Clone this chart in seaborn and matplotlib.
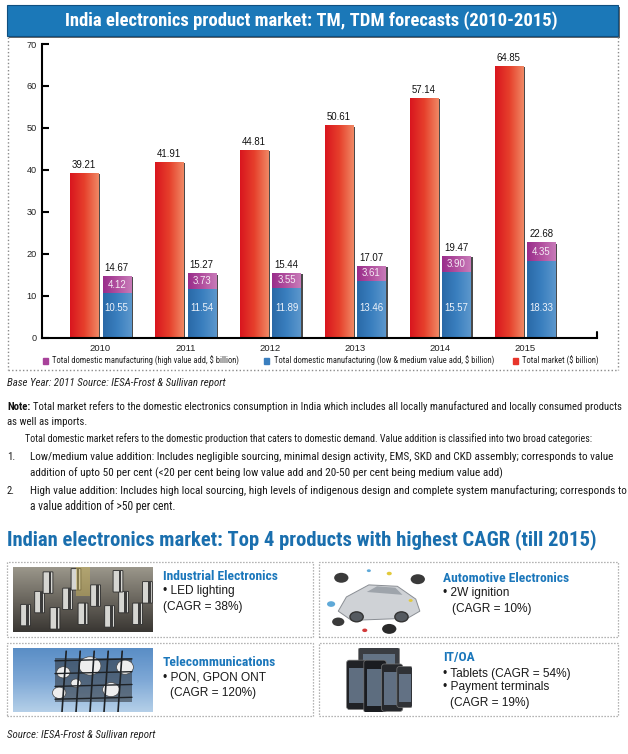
import matplotlib
matplotlib.use('Agg')
import matplotlib.pyplot as plt
import seaborn as sns
import numpy as np
import pandas as pd
from matplotlib import font_manager as fm
from matplotlib.patches import Rectangle, FancyBboxPatch, Ellipse, Polygon, Circle
from matplotlib.lines import Line2D
from matplotlib.colors import LinearSegmentedColormap
import matplotlib.patheffects as pe

# ---------------- data ----------------
years = ['2010', '2011', '2012', '2013', '2014', '2015']
total_market = [39.21, 41.91, 44.81, 50.61, 57.14, 64.85]
dom_total = [14.67, 15.27, 15.44, 17.07, 19.47, 22.68]
dom_high = [4.12, 3.73, 3.55, 3.61, 3.90, 4.35]
dom_low = [10.55, 11.54, 11.89, 13.46, 15.57, 18.33]
y_ticks = [0, 10, 20, 30, 40, 50, 60, 70]
legend_labels = ['Total domestic manufacturing (high value add, $ billion)',
                 'Total domestic manufacturing (low & medium value add, $ billion)',
                 'Total market ($ billion)']

title_1 = 'India electronics product market: TM, TDM forecasts (2010-2015)'
title_2 = 'Indian electronics market: Top 4 products with highest CAGR (till 2015)'
base_note = 'Base Year: 2011 Source: IESA-Frost & Sullivan report'
source_note = 'Source: IESA-Frost & Sullivan report'

# ---------------- fonts ----------------
sns.set_theme(style='white')
avail = {f.name for f in fm.fontManager.ttflist}
narrow_found = [f for f in ['Liberation Sans Narrow', 'Roboto Condensed', 'DejaVu Sans Condensed'] if f in avail]
NARROW = narrow_found + ['Liberation Sans', 'DejaVu Sans']
REG = ['Liberation Sans', 'DejaVu Sans']
plt.rcParams['font.family'] = REG

W, H = 628, 754
fig = plt.figure(figsize=(W / 100, H / 100), dpi=100)
fig.patch.set_facecolor('white')
renderer = fig.canvas.get_renderer()


def fx(px):
    return px / W


def fy(py):
    return 1 - py / H


def ftext(x, y, s, fit=None, **kw):
    kw.setdefault('va', 'center')
    kw.setdefault('ha', 'left')
    t = fig.text(fx(x), fy(y), s, **kw)
    if fit is not None:
        w = t.get_window_extent(renderer).width
        t.set_fontsize(t.get_fontsize() * fit / w)
    return t


def twidth(t):
    return t.get_window_extent(renderer).width


def dotted_line(x0, y0, x1, y1, color='#8a8a8a'):
    fig.add_artist(Line2D([fx(x0), fx(x1)], [fy(y0), fy(y1)], transform=fig.transFigure,
                          color=color, lw=1.0, linestyle=(0, (1, 1.6))))


def dotted_box(x0, y0, x1, y1):
    fig.add_artist(Rectangle((fx(x0), fy(y1)), fx(x1) - fx(x0), fy(y0) - fy(y1),
                             transform=fig.transFigure, fill=False, ec='#9c9c9c',
                             lw=0.9, linestyle=(0, (1, 1.4))))


# ---------------- banner ----------------
BLUE_T = '#1b78b8'
fig.add_artist(Rectangle((fx(7), fy(36)), fx(618) - fx(7), fy(5) - fy(36), transform=fig.transFigure,
                         color=BLUE_T, ec='#0f4f80', lw=0.8,
                         path_effects=[pe.SimplePatchShadow(offset=(1.2, -1.2), shadow_rgbFace='#444', alpha=0.8), pe.Normal()]))
ftext(311, 20.5, title_1, fit=494, ha='center', color='white', fontsize=14,
      fontweight='bold', family=NARROW)

# chart border
dotted_line(8, 37, 8, 370)
dotted_line(618, 37, 618, 370)
dotted_line(8, 370, 618, 370)

# ---------------- chart ----------------
ax = fig.add_axes([fx(42), fy(337.5), fx(597) - fx(42), fy(44) - fy(337.5)])
ax.set_facecolor('white')
df = pd.DataFrame({'year': years * 2,
                   'value': total_market + dom_total,
                   'series': ['Total market'] * 6 + ['Domestic'] * 6})
RED, PURPLE, BLUE = '#e8352b', '#a8419a', '#3a7fbf'
sns.barplot(data=df, x='year', y='value', hue='series', hue_order=['Total market', 'Domestic'],
            palette={'Total market': RED, 'Domestic': PURPLE}, width=0.77, gap=0.14,
            errorbar=None, legend=False, saturation=1, ax=ax)
red_bars = list(ax.containers[0])
dom_bars = list(ax.containers[1])
bw = dom_bars[0].get_width()
xs = [p.get_x() + p.get_width() / 2 for p in dom_bars]
blue_bars = list(ax.bar(xs, dom_low, width=bw, color=BLUE, zorder=2.2))


def grad(patch, colors, z):
    x0, y0 = patch.get_x(), patch.get_y()
    w, h = patch.get_width(), patch.get_height()
    cmap = LinearSegmentedColormap.from_list('g', colors)
    im = ax.imshow(np.linspace(0, 1, 64).reshape(1, -1), cmap=cmap,
                   extent=[x0, x0 + w, y0, y0 + h], aspect='auto', zorder=z,
                   interpolation='bilinear')
    im.set_clip_path(patch)


shadow = [pe.SimplePatchShadow(offset=(1.5, -1.0), shadow_rgbFace='#2a2a2a', alpha=0.85), pe.Normal()]
for p in red_bars:
    p.set_edgecolor('none'); p.set_zorder(2); p.set_path_effects(shadow)
    grad(p, ['#d9161e', '#e6402c', '#f08864'], 2.1)
for p in dom_bars:
    p.set_edgecolor('none'); p.set_zorder(2); p.set_path_effects(shadow)
    grad(p, ['#992d8b', '#b2509f', '#c87bb9'], 2.1)
for p in blue_bars:
    p.set_edgecolor('none')
    grad(p, ['#2a69a7', '#3a7fbf', '#5c97cc'], 2.3)

ax.set_xlim(-0.687, 5.848)
ax.set_ylim(0, 70)
ax.set_yticks(y_ticks)
ax.set_xlabel('')
ax.set_ylabel('')
for s in ['top', 'right']:
    ax.spines[s].set_visible(False)
for s in ['left', 'bottom']:
    ax.spines[s].set_color('black')
    ax.spines[s].set_linewidth(1.5)
ax.tick_params(axis='y', direction='in', length=5, width=1.5, color='black', labelsize=6.6,
               pad=4, labelcolor='#222', left=True)
ax.tick_params(axis='x', length=0, labelsize=6.8, pad=4.5, labelcolor='#222')
ax.plot([1, 1], [0, 0.02], transform=ax.transAxes, color='black', lw=1.5, clip_on=False)

for p, v in zip(red_bars, total_market):
    ax.annotate(f'{v:.2f}', (p.get_x() + p.get_width() / 2, v), xytext=(0, 2.2),
                textcoords='offset points', ha='center', va='bottom', fontsize=6.9, color='#111', zorder=5)
for p, v in zip(dom_bars, dom_total):
    ax.annotate(f'{v:.2f}', (p.get_x() + p.get_width() / 2, v), xytext=(0, 2.2),
                textcoords='offset points', ha='center', va='bottom', fontsize=6.9, color='#111', zorder=5)
for x, lo, hi in zip(xs, dom_low, dom_high):
    ax.text(x, lo + hi / 2, f'{hi:.2f}', ha='center', va='center', fontsize=6.9, color='#f4ecf4', zorder=5)
    ax.text(x, 7.0, f'{lo:.2f}', ha='center', va='center', fontsize=6.9, color='#eef3fa', zorder=5)

# legend (manual)
leg_cols = [PURPLE, BLUE, RED]
leg_sq_x = [43, 264, 513]
leg_tx_x = [52, 274, 522]
ref = ftext(leg_tx_x[1], 360.7, legend_labels[1], fit=495 - 274, fontsize=6, color='#222', family=NARROW)
fs_leg = ref.get_fontsize()
ref.remove()
for c, sx, tx, lab in zip(leg_cols, leg_sq_x, leg_tx_x, legend_labels):
    fig.add_artist(Rectangle((fx(sx), fy(363.7)), 5 / W, 6 / H, transform=fig.transFigure, color=c))
    ftext(tx, 360.7, lab, fontsize=fs_leg, color='#222', family=NARROW)

# ---------------- notes ----------------
ftext(7, 383, base_note, fit=218, fontsize=7, style='italic', color='#222', family=NARROW)

NOTE_C = '#1a1a1a'
nkw = dict(fontsize=8, color=NOTE_C, family=NARROW)
t_total = ftext(25, 438.5, 'Total domestic market refers to the domestic production that caters to domestic demand. '
                'Value addition is classified into two broad categories:', fit=596 - 25, **nkw)
t_l1 = ftext(30, 457, 'Low/medium value addition: Includes negligible sourcing, minimal design activity, EMS, SKD and '
             'CKD assembly; corresponds to value', fit=613 - 30, **nkw)
t_l2 = ftext(30, 473, 'addition of upto 50 per cent (<20 per cent being low value add and 20-50 per cent being medium '
             'value add)', fit=502 - 30, **nkw)
FSN = np.mean([t_total.get_fontsize(), t_l1.get_fontsize(), t_l2.get_fontsize()])
tn = ftext(7, 407, 'Note:', fontsize=FSN, fontweight='bold', color='#111', family=NARROW)
nx = 7 + twidth(tn) + 3
ftext(nx, 407, 'Total market refers to the domestic electronics consumption in India which includes '
      'all locally manufactured and locally consumed products', fit=623 - nx, fontsize=FSN,
      color=NOTE_C, family=NARROW)
ftext(7, 422, 'as well as imports.', fontsize=FSN, color=NOTE_C, family=NARROW)
ftext(7, 457, '1.', fontsize=FSN, color=NOTE_C, family=NARROW)
ftext(7, 490.7, '2.', fontsize=FSN, color=NOTE_C, family=NARROW)
ftext(30, 490.7, 'High value addition: Includes high local sourcing, high levels of indigenous design and complete '
      'system manufacturing; corresponds to', fontsize=FSN * 1.04, color=NOTE_C, family=NARROW)
ftext(30, 506.7, 'a value addition of >50 per cent.', fit=176 - 30, fontsize=FSN, color=NOTE_C, family=NARROW)

# ---------------- second section ----------------
ftext(7, 540, title_2, fit=589, fontsize=16, fontweight='bold', color='#1a6fae', family=NARROW)

dotted_box(7, 562, 313, 637)
dotted_box(319, 562, 618, 637)
dotted_box(7, 643, 313, 716)
dotted_box(319, 643, 618, 716)


def img_ax(x0, y0, x1, y1):
    a = fig.add_axes([fx(x0), fy(y1), fx(x1) - fx(x0), fy(y0) - fy(y1)])
    a.set_xlim(0, 1); a.set_ylim(0, 1); a.axis('off')
    return a


# industrial electronics picture (stylised)
a1 = img_ax(13, 567, 153, 632)
a1.imshow(np.linspace(0, 1, 50).reshape(-1, 1), cmap=LinearSegmentedColormap.from_list('i', ['#9a968a', '#6a665e', '#3a3733']),
          extent=[0, 1, 0, 1], aspect='auto')
caps = [(0.06, 0.1), (0.16, 0.3), (0.27, 0.05), (0.36, 0.35), (0.47, 0.12), (0.56, 0.4),
        (0.66, 0.08), (0.76, 0.3), (0.86, 0.12), (0.93, 0.45), (0.22, 0.6), (0.42, 0.65), (0.72, 0.62)]
for cx, cy in caps:
    a1.add_patch(FancyBboxPatch((cx, cy), 0.06, 0.32, boxstyle='round,pad=0.005', fc='#d6d6d2', ec='#2a2a2a', lw=0.6))
    a1.add_patch(Rectangle((cx + 0.035, cy), 0.018, 0.32, fc='#3c3c3c', ec='none'))
a1.add_patch(Rectangle((0.45, 0.55), 0.1, 0.45, fc='#c9b25a', ec='none', alpha=0.5))

# telecom picture (stylised)
a3 = img_ax(13, 648, 153, 712)
a3.imshow(np.linspace(0, 1, 50).reshape(-1, 1), cmap=LinearSegmentedColormap.from_list('t', ['#5a8ec6', '#7ea8d6', '#b4cfe8']),
          extent=[0, 1, 0, 1], aspect='auto')
for xx in [0.35, 0.45, 0.55, 0.65, 0.75]:
    a3.plot([xx, xx + 0.03], [0.0, 0.95], color='#1e2226', lw=1.2)
for yy in [0.2, 0.4, 0.6, 0.8]:
    a3.plot([0.3, 0.85], [yy, yy + 0.03], color='#1e2226', lw=1.0)
a3.add_patch(Rectangle((0.3, 0.15), 0.55, 0.7, fc='#2a2e33', ec='none', alpha=0.55))
for (cx, cy, r) in [(0.55, 0.72, 0.13), (0.36, 0.62, 0.08), (0.33, 0.3, 0.08), (0.7, 0.35, 0.1), (0.8, 0.7, 0.1), (0.45, 0.45, 0.06)]:
    a3.add_patch(Ellipse((cx, cy), r * 1.2, r * 2.2, fc='#eeeeee', ec='#444', lw=0.5))

# car picture (stylised)
a2 = img_ax(326, 565, 428, 636)
car = Polygon([(0.12, 0.35), (0.2, 0.55), (0.42, 0.72), (0.7, 0.7), (0.88, 0.52), (0.92, 0.35), (0.8, 0.25), (0.25, 0.22)],
              closed=True, fc='#cfd2d6', ec='#8a8e94', lw=0.7)
a2.add_patch(car)
a2.add_patch(Polygon([(0.4, 0.62), (0.5, 0.7), (0.68, 0.68), (0.75, 0.58)], closed=True, fc='#9ea4ab', ec='none'))
for wx in [0.3, 0.74]:
    a2.add_patch(Ellipse((wx, 0.27), 0.13, 0.14, fc='#555a60', ec='#333'))
for (cx, cy, r, c) in [(0.15, 0.82, 0.07, '#3a3a3a'), (0.9, 0.8, 0.07, '#3a3a3a'), (0.12, 0.2, 0.06, '#3a3a3a'),
                       (0.62, 0.1, 0.07, '#2a2a2a'), (0.05, 0.45, 0.04, '#5fa9d8'), (0.38, 0.08, 0.025, '#d23a3a'),
                       (0.62, 0.88, 0.025, '#e2c93a'), (0.42, 0.92, 0.02, '#5fa9d8'), (0.83, 0.5, 0.02, '#e2c93a')]:
    a2.add_patch(Circle((cx, cy), r, fc=c, ec='none'))

# phones picture (stylised)
a4 = img_ax(346, 648, 412, 712)
for (x0, y0, w, h, fc) in [(0.2, 0.45, 0.6, 0.55, '#3a3d42'), (0.02, 0.05, 0.3, 0.75, '#202226'),
                            (0.28, 0.0, 0.32, 0.8, '#1a1c20'), (0.55, 0.02, 0.3, 0.72, '#26282c'),
                            (0.78, 0.08, 0.22, 0.62, '#303236')]:
    a4.add_patch(FancyBboxPatch((x0, y0), w, h, boxstyle='round,pad=0.01,rounding_size=0.04', fc=fc, ec='#777', lw=0.5))
    a4.add_patch(Rectangle((x0 + w * 0.1, y0 + h * 0.12), w * 0.8, h * 0.72, fc='#6f8298', ec='none', alpha=0.8))

# panel texts
BLUE_H = '#1b77bb'
ref = ftext(163, 576, 'Industrial Electronics', fit=115, fontsize=9, fontweight='bold', color=BLUE_H, family=NARROW)
FSH = ref.get_fontsize()
ftext(443, 578, 'Automotive Electronics', fontsize=FSH, fontweight='bold', color=BLUE_H, family=NARROW)
ftext(163, 662, 'Telecommunications', fontsize=FSH, fontweight='bold', color=BLUE_H, family=NARROW)
ftext(443, 658, 'IT/OA', fontsize=FSH, fontweight='bold', color=BLUE_H, family=NARROW)

FSB = 8.6
body = dict(fontsize=FSB, color='#1a1a1a', family=REG)
ftext(163, 591, '\u2022 LED lighting', **body)
ftext(163, 607, '(CAGR = 38%)', **body)
ftext(443, 593, '\u2022 2W ignition', **body)
ftext(452, 609, '(CAGR = 10%)', **body)
ftext(163, 678, '\u2022 PON, GPON ONT', **body)
ftext(170, 693, '(CAGR = 120%)', **body)
ftext(443, 674, '\u2022 Tablets (CAGR = 54%)', **body)
ftext(443, 687, '\u2022 Payment terminals', **body)
ftext(450, 703, '(CAGR = 19%)', **body)

ftext(7, 735, source_note, fit=148, fontsize=7, style='italic', color='#222', family=NARROW)

fig.savefig('out.png', dpi=100, facecolor='white')
